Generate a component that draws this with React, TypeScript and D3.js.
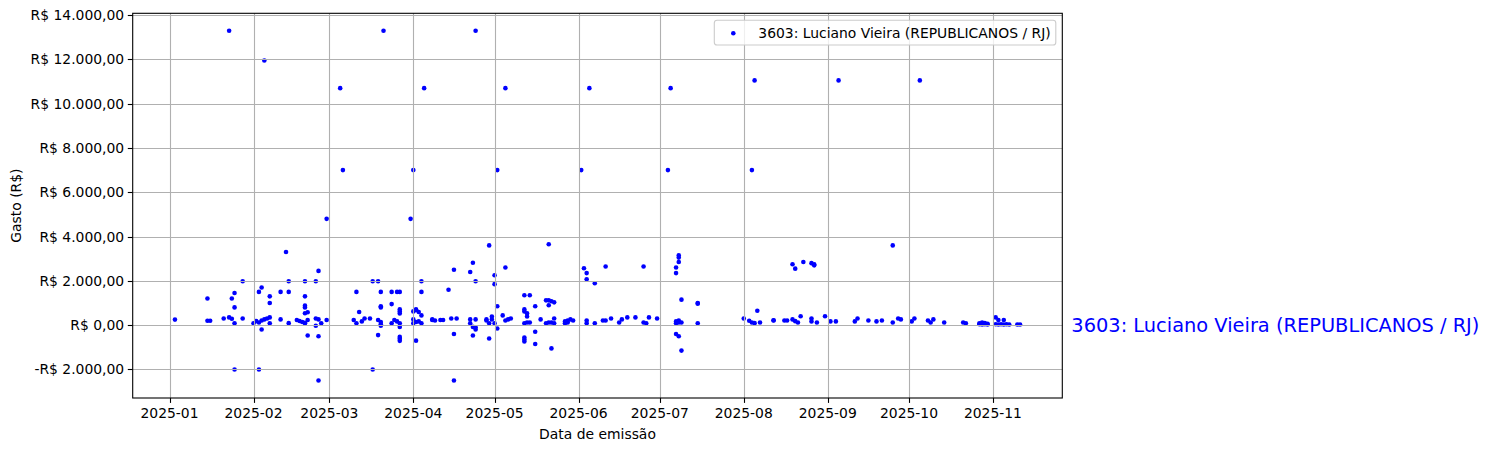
import React from "react";
import * as d3 from "d3";

// ---------- data ----------
const emissionDates: string[] = [
  // Jan
  "2025-01-03", "2025-01-15", "2025-01-16", "2025-01-15", "2025-01-21", "2025-01-23", "2025-01-23", "2025-01-24",
  "2025-01-24", "2025-01-25", "2025-01-25", "2025-01-25", "2025-01-25", "2025-01-28", "2025-01-28",
  // Feb
  "2025-02-01", "2025-02-02", "2025-02-03", "2025-02-04", "2025-02-05", "2025-02-06", "2025-02-07", "2025-02-03",
  "2025-02-03", "2025-02-04", "2025-02-04", "2025-02-05", "2025-02-07", "2025-02-07", "2025-02-07", "2025-02-11",
  "2025-02-11", "2025-02-13", "2025-02-14", "2025-02-14", "2025-02-14", "2025-02-17", "2025-02-18", "2025-02-19",
  "2025-02-20", "2025-02-20", "2025-02-20", "2025-02-20", "2025-02-20", "2025-02-20", "2025-02-20", "2025-02-21",
  "2025-02-21", "2025-02-21", "2025-02-24", "2025-02-24", "2025-02-24", "2025-02-25", "2025-02-25", "2025-02-25",
  "2025-02-25", "2025-02-26", "2025-02-28", "2025-02-28",
  // Mar
  "2025-03-05", "2025-03-06", "2025-03-10", "2025-03-11", "2025-03-11", "2025-03-12", "2025-03-13", "2025-03-14",
  "2025-03-16", "2025-03-17", "2025-03-17", "2025-03-19", "2025-03-19", "2025-03-19", "2025-03-20", "2025-03-20",
  "2025-03-20", "2025-03-20", "2025-03-20", "2025-03-20", "2025-03-21", "2025-03-24", "2025-03-24", "2025-03-24",
  "2025-03-25", "2025-03-26", "2025-03-26", "2025-03-27", "2025-03-27", "2025-03-27", "2025-03-27", "2025-03-27",
  "2025-03-27", "2025-03-27", "2025-03-27", "2025-03-27", "2025-03-31",
  // Apr
  "2025-04-01", "2025-04-01", "2025-04-01", "2025-04-01", "2025-04-02", "2025-04-02", "2025-04-02", "2025-04-02",
  "2025-04-03", "2025-04-03", "2025-04-04", "2025-04-04", "2025-04-04", "2025-04-04", "2025-04-05", "2025-04-08",
  "2025-04-08", "2025-04-09", "2025-04-11", "2025-04-12", "2025-04-14", "2025-04-15", "2025-04-16", "2025-04-16",
  "2025-04-16", "2025-04-17", "2025-04-22", "2025-04-22", "2025-04-22", "2025-04-23", "2025-04-23", "2025-04-23",
  "2025-04-24", "2025-04-24", "2025-04-24", "2025-04-24", "2025-04-24", "2025-04-28", "2025-04-28", "2025-04-29",
  "2025-04-29", "2025-04-29", "2025-04-30", "2025-04-30",
  // May
  "2025-05-01", "2025-05-01", "2025-05-01", "2025-05-02", "2025-05-02", "2025-05-02", "2025-05-04", "2025-05-05",
  "2025-05-05", "2025-05-05", "2025-05-06", "2025-05-07", "2025-05-12", "2025-05-12", "2025-05-12", "2025-05-12",
  "2025-05-12", "2025-05-12", "2025-05-12", "2025-05-13", "2025-05-13", "2025-05-13", "2025-05-14", "2025-05-14",
  "2025-05-16", "2025-05-16", "2025-05-16", "2025-05-18", "2025-05-20", "2025-05-20", "2025-05-21", "2025-05-21",
  "2025-05-21", "2025-05-21", "2025-05-22", "2025-05-22", "2025-05-22", "2025-05-23", "2025-05-23", "2025-05-23",
  "2025-05-27", "2025-05-27", "2025-05-28", "2025-05-28", "2025-05-29", "2025-05-30",
  // Jun
  "2025-06-02", "2025-06-03", "2025-06-04", "2025-06-04", "2025-06-04", "2025-06-04", "2025-06-05", "2025-06-07",
  "2025-06-07", "2025-06-10", "2025-06-11", "2025-06-11", "2025-06-13", "2025-06-16", "2025-06-17", "2025-06-19",
  "2025-06-22", "2025-06-25", "2025-06-25", "2025-06-26", "2025-06-27", "2025-06-30",
  // Jul
  "2025-07-04", "2025-07-05", "2025-07-07", "2025-07-07", "2025-07-07", "2025-07-07", "2025-07-07", "2025-07-08",
  "2025-07-08", "2025-07-08", "2025-07-08", "2025-07-08", "2025-07-08", "2025-07-09", "2025-07-09", "2025-07-09",
  "2025-07-15", "2025-07-15", "2025-07-15",
  // Aug
  "2025-08-01", "2025-08-03", "2025-08-04", "2025-08-04", "2025-08-05", "2025-08-05", "2025-08-06", "2025-08-07",
  "2025-08-12", "2025-08-12", "2025-08-16", "2025-08-17", "2025-08-19", "2025-08-19", "2025-08-20", "2025-08-20",
  "2025-08-21", "2025-08-22", "2025-08-23", "2025-08-26", "2025-08-26", "2025-08-26", "2025-08-27", "2025-08-27",
  "2025-08-28", "2025-08-31",
  // Sep
  "2025-09-02", "2025-09-04", "2025-09-05", "2025-09-11", "2025-09-12", "2025-09-16", "2025-09-19", "2025-09-21",
  "2025-09-25", "2025-09-25", "2025-09-27", "2025-09-28",
  // Oct
  "2025-10-02", "2025-10-03", "2025-10-05", "2025-10-08", "2025-10-09", "2025-10-10", "2025-10-14", "2025-10-21",
  "2025-10-22", "2025-10-27", "2025-10-27", "2025-10-28", "2025-10-28", "2025-10-29", "2025-10-29", "2025-10-30",
  "2025-10-30",
  // Nov
  "2025-11-02", "2025-11-02", "2025-11-03", "2025-11-03", "2025-11-04", "2025-11-05", "2025-11-05", "2025-11-06",
  "2025-11-07", "2025-11-10", "2025-11-11",
];

const amounts: number[] = [
  // Jan
  250, 200, 200, 1200, 300, 13290, 350, 290,
  1200, 80, 1450, 800, -2000, 1980, 300,
  // Feb
  80, 180, 120, 210, 260, 300, 350, 1500,
  -2000, 1700, -200, 11950, 1300, 1000, 80, 1500,
  260, 3300, 1500, 90, 1980, 230, 190, 140,
  80, 110, 1980, 1300, 880, 800, 540, 580,
  230, -470, 1980, 300, -30, 2450, 260, -500,
  -2500, 80, 230, 4800,
  // Mar
  10700, 7000, 230, 1500, 80, 590, 170, 300,
  300, 1980, -2000, 1980, -450, 230, 1500, 850,
  800, 140, 45, -30, 13290, 1500, 950, 80,
  230, 1500, 170, 1500, 710, 620, 530, 80,
  -80, -530, -620, -710, 4800,
  // Apr
  7000, 260, 620, 80, 680, 140, 710, -700,
  590, 170, 440, 1980, 1500, 80, 10700, 260,
  230, 210, 230, 230, 1600, 300, 2500, -400,
  -2500, 300, 2400, 260, 80, 2820, -470, -80,
  13290, 1980, 260, -100, -200, 260, 210, 80,
  3600, -600, 260, 390,
  // May
  2250, 1850, 80, 7000, 850, -150, 440, 10700,
  2600, 210, 260, 300, 1350, 710, 620, 80,
  -560, -650, -740, 530, 390, 120, 1350, 120,
  850, -300, -850, 260, 80, 1120, 120, 900,
  1120, 3650, 120, 1080, -1050, 1030, 300, 80,
  80, 170, 210, 120, 260, 210,
  // Jun
  7000, 2570, 2350, 2070, 210, 80, 10700, 1890,
  80, 210, 210, 2650, 300, 120, 260, 350,
  350, 120, 2650, 80, 350, 300,
  // Jul
  7000, 10700, 2600, 2350, 80, -400, 170, 3150,
  3050, 210, -500, 2850, 120, 1150, 120, -1150,
  1000, 970, 80,
  // Aug
  300, 200, 7000, 120, 11050, 90, 650, 120,
  210, 220, 210, 210, 260, 2750, 180, 2550,
  120, 400, 2850, 2800, 170, 300, 2750, 2700,
  120, 400,
  // Sep
  170, 170, 11050, 170, 300, 210, 170, 210,
  3600, 120, 300, 260,
  // Oct
  170, 300, 11050, 210, 120, 260, 120, 120,
  80, 80, 40, 120, 30, 90, 40, 60,
  30,
  // Nov
  350, 40, 230, 30, 40, 230, 30, 40,
  30, 30, 30,
];

const yTickValues: number[] = [-2000, 0, 2000, 4000, 6000, 8000, 10000, 12000, 14000];
const seriesLabel = "3603: Luciano Vieira (REPUBLICANOS / RJ)";
const xAxisTitle = "Data de emissão";
const yAxisTitle = "Gasto (R$)";

// ---------- chart ----------
const W = 1490;
const H = 451;
const PLOT = { left: 132.7, right: 1062.3, top: 13.3, bottom: 398 };
const FONT = "'DejaVu Sans', Verdana, sans-serif";
const GRID = "#b0b0b0";
const DOT = "#0000ff";

const brLocale = d3.formatLocale({
  decimal: ",",
  thousands: ".",
  grouping: [3],
  currency: ["R$ ", ""],
});
const money = brLocale.format(",.2f");
const fmtY = (v: number) => (v < 0 ? "-R$ " : "R$ ") + money(Math.abs(v));
const fmtX = d3.utcFormat("%Y-%m");

export default function App() {
  const parse = d3.utcParse("%Y-%m-%d");
  const dates = emissionDates.map((s) => parse(s) as Date);
  const points = dates.map((d, i) => ({ d, v: amounts[i] }));

  const [dMin, dMax] = d3.extent(dates) as [Date, Date];
  const dPad = (dMax.getTime() - dMin.getTime()) * 0.05;
  const x = d3
    .scaleUtc()
    .domain([new Date(dMin.getTime() - dPad), new Date(dMax.getTime() + dPad)])
    .range([PLOT.left, PLOT.right]);

  const [vMin, vMax] = d3.extent(amounts) as [number, number];
  const vPad = (vMax - vMin) * 0.05;
  const y = d3
    .scaleLinear()
    .domain([vMin - vPad, vMax + vPad])
    .range([PLOT.bottom, PLOT.top]);

  const xTicks = x.ticks(d3.utcMonth.every(1) as any).filter((t) => t >= x.domain()[0] && t <= x.domain()[1]);
  const yTicks = yTickValues.filter((t) => t >= y.domain()[0] && t <= y.domain()[1]);

  const snap = (v: number) => Math.round(v) + 0.5;

  return (
    <svg
      width={W}
      height={H}
      viewBox={`0 0 ${W} ${H}`}
      style={{ position: "absolute", left: 0, top: 0, background: "#fff" }}
      fontFamily={FONT}
    >
      <rect x={0} y={0} width={W} height={H} fill="#fff" />

      {/* points */}
      <g>
        {points.map((p, i) => (
          <circle key={i} cx={x(p.d)} cy={y(p.v)} r={2.3} fill={DOT} />
        ))}
      </g>

      {/* grid (drawn above points like matplotlib) */}
      <g stroke={GRID} strokeWidth={1.1}>
        {xTicks.map((t, i) => (
          <line key={"gx" + i} x1={snap(x(t))} x2={snap(x(t))} y1={PLOT.top} y2={PLOT.bottom} />
        ))}
        {yTicks.map((t, i) => (
          <line key={"gy" + i} x1={PLOT.left} x2={PLOT.right} y1={snap(y(t))} y2={snap(y(t))} />
        ))}
      </g>

      {/* frame */}
      <rect
        x={PLOT.left}
        y={PLOT.top}
        width={PLOT.right - PLOT.left}
        height={PLOT.bottom - PLOT.top}
        fill="none"
        stroke="#000"
        strokeWidth={1.1}
      />

      {/* x ticks */}
      <g fontSize={13.9} fill="#000">
        {xTicks.map((t, i) => (
          <g key={"tx" + i}>
            <line x1={snap(x(t))} x2={snap(x(t))} y1={PLOT.bottom} y2={PLOT.bottom + 4.9} stroke="#000" strokeWidth={1.1} />
            <text x={x(t)} y={418.3} textAnchor="middle">
              {fmtX(t)}
            </text>
          </g>
        ))}
      </g>

      {/* y ticks */}
      <g fontSize={13.9} fill="#000">
        {yTicks.map((t, i) => (
          <g key={"ty" + i}>
            <line x1={PLOT.left - 4.9} x2={PLOT.left} y1={snap(y(t))} y2={snap(y(t))} stroke="#000" strokeWidth={1.1} />
            <text x={PLOT.left - 8.5} y={y(t) + 5} textAnchor="end">
              {fmtY(t)}
            </text>
          </g>
        ))}
      </g>

      {/* axis titles */}
      <text x={(PLOT.left + PLOT.right) / 2} y={439} textAnchor="middle" fontSize={13.9}>
        {xAxisTitle}
      </text>
      <text
        transform={`translate(21,${(PLOT.top + PLOT.bottom) / 2}) rotate(-90)`}
        textAnchor="middle"
        fontSize={13.9}
      >
        {yAxisTitle}
      </text>

      {/* legend */}
      <g>
        <rect x={714.3} y={20.3} width={341.5} height={24.7} rx={2.8} fill="#fff" fillOpacity={0.8} stroke="#cccccc" strokeWidth={1.1} />
        <circle cx={733.3} cy={33.3} r={2.3} fill={DOT} />
        <text x={758.3} y={38} fontSize={13.9} fill="#000">
          {seriesLabel}
        </text>
      </g>

      {/* series label on the right, at zero */}
      <text x={PLOT.right + 9} y={y(0) + 6.8} fontSize={19.4} fill={DOT}>
        {seriesLabel}
      </text>
    </svg>
  );
}
